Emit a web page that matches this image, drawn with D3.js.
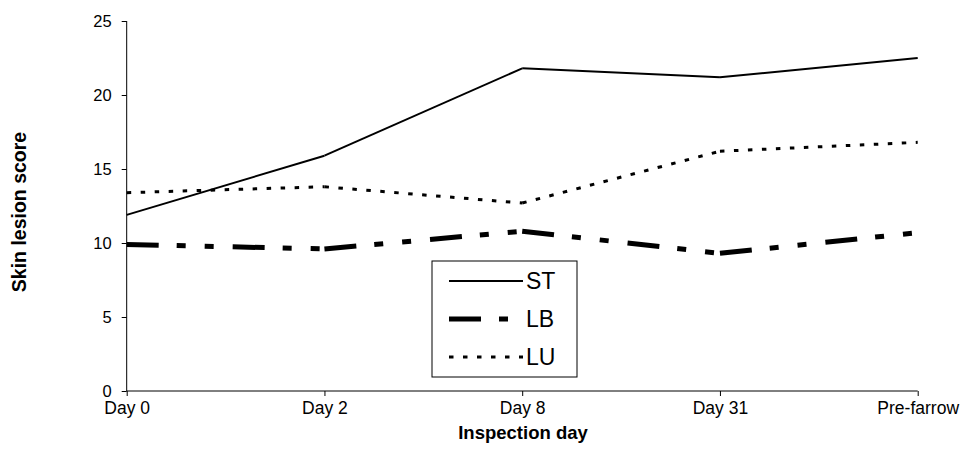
<!DOCTYPE html>
<html>
<head>
<meta charset="utf-8">
<script src="https://cdn.jsdelivr.net/npm/d3@7"></script>
<style>
  body { margin: 0; background: #fff; }
  svg { display: block; font-family: "Liberation Sans", Arial, sans-serif; }
</style>
</head>
<body>
<svg id="chart" width="962" height="450"></svg>
<script>
const days = ["Day 0", "Day 2", "Day 8", "Day 31", "Pre-farrow"];
const st = [11.9, 15.9, 21.8, 21.2, 22.5];
const lb = [9.9, 9.6, 10.8, 9.3, 10.7];
const lu = [13.4, 13.8, 12.7, 16.2, 16.8];
const yTicks = [0, 5, 10, 15, 20, 25];

// series styles (Excel-ish line patterns)
const series = [
  { name: "ST", values: st, width: 2, dash: null },
  { name: "LB", values: lb, width: 5, dash: "32,18,9,19,9,19" },
  { name: "LU", values: lu, width: 3, dash: "4.5,9.5" }
];

const svg = d3.select("#chart");
const x = d3.scalePoint().domain(days).range([126.7, 917.7]);
const y = d3.scaleLinear().domain([0, 25]).range([391, 21]);

// y axis
const yAxis = svg.append("g")
  .attr("transform", "translate(126.7,0)")
  .call(d3.axisLeft(y).tickValues(yTicks).tickSize(5).tickPadding(10).tickFormat(d3.format("d")));
yAxis.select(".domain").attr("d", `M0,${y(0)}V${y(25)}`);
yAxis.selectAll("text").style("font-size", "16.5px").attr("fill", "#000");

// x axis
const xAxis = svg.append("g")
  .attr("transform", `translate(0,${y(0)})`)
  .call(d3.axisBottom(x).tickSize(5).tickSizeOuter(0).tickPadding(6));
xAxis.select(".domain").attr("d", `M${x(days[0])},0H${x(days[4])}`);
xAxis.selectAll("text").style("font-size", "17.5px").attr("fill", "#000");

// lines, drawn per segment so the dash pattern restarts at every point like the original
series.forEach(s => {
  const pts = s.values.map((v, i) => [x(days[i]), y(v)]);
  const segs = d3.pairs(pts);
  svg.append("g").selectAll("path")
    .data(segs)
    .join("path")
    .attr("d", d => d3.line()(d))
    .attr("fill", "none")
    .attr("stroke", "#000")
    .attr("stroke-width", s.width)
    .attr("stroke-dasharray", s.dash);
});

// legend
const lg = svg.append("g");
lg.append("rect")
  .attr("x", 432).attr("y", 261).attr("width", 145).attr("height", 116)
  .attr("fill", "#fff").attr("stroke", "#000").attr("stroke-width", 1);
series.forEach((s, i) => {
  const ly = 281 + i * 38;
  lg.append("path")
    .attr("d", `M449,${ly}H523`)
    .attr("stroke", "#000")
    .attr("stroke-width", s.width)
    .attr("stroke-dasharray", s.dash);
  lg.append("text")
    .attr("x", 526).attr("y", ly)
    .attr("dy", "0.36em")
    .style("font-size", "23px")
    .text(s.name);
});

// axis titles
svg.append("text")
  .attr("x", 523).attr("y", 439)
  .attr("text-anchor", "middle")
  .style("font-size", "18.5px").style("font-weight", "bold")
  .text("Inspection day");

svg.append("text")
  .attr("transform", "translate(26,212) rotate(-90)")
  .attr("text-anchor", "middle")
  .style("font-size", "19.5px").style("font-weight", "bold")
  .text("Skin lesion score");
</script>
</body>
</html>
